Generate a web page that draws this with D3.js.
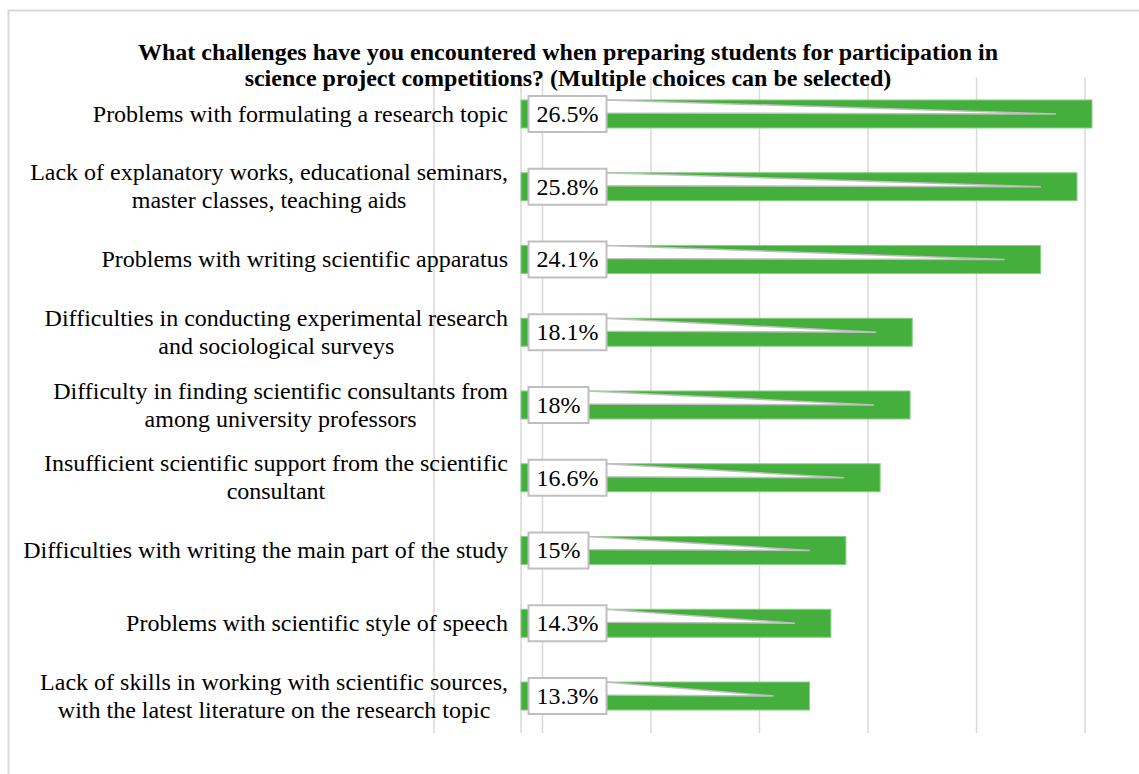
<!DOCTYPE html>
<html><head><meta charset="utf-8">
<script src="https://cdn.jsdelivr.net/npm/d3@7"></script>
<style>body{margin:0;background:#fff}svg{display:block}</style>
</head><body>
<svg id="c" width="1139" height="774"></svg>
<script>
const titleLines = ["What challenges have you encountered when preparing students for participation in",
  "science project competitions? (Multiple choices can be selected)"];
const categories = [
  ["Problems with formulating a research topic"],
  ["Lack of explanatory works, educational seminars,", "master classes, teaching aids"],
  ["Problems with writing scientific apparatus"],
  ["Difficulties in conducting experimental research", "and sociological surveys"],
  ["Difficulty in finding scientific consultants from", "among university professors"],
  ["Insufficient scientific support from the scientific", "consultant"],
  ["Difficulties with writing the main part of the study"],
  ["Problems with scientific style of speech"],
  ["Lack of skills in working with scientific sources,", "with the latest literature on the research topic"]
];
const values = [26.5, 25.8, 24.1, 18.1, 18, 16.6, 15, 14.3, 13.3];
const valueLabels = ["26.5%", "25.8%", "24.1%", "18.1%", "18%", "16.6%", "15%", "14.3%", "13.3%"];
const gridTicks = [0, 1, 2, 3, 4, 5, 6];

const svg = d3.select("#c");
const FONT = "'Liberation Serif','Times New Roman',serif";
const LBL = 24, VAL = 24, TTL = 24;

// frame
svg.append("path").attr("d", "M8.5,774 V10.5 H1139").attr("fill", "none")
  .attr("stroke", "#d9d9d9").attr("stroke-width", 2);

const y = d3.scaleBand().domain(d3.range(categories.length)).range([77.6, 732.4]).paddingInner(0.615).paddingOuter(0.3075);
const x0 = -0.18;
const x = d3.scaleLinear().domain([x0, 26.5]).range([521, 1092]);
const gx = d3.scaleLinear().domain([0, 6]).range([434, 1085]);

// gridlines
svg.append("g").selectAll("line").data(gridTicks).join("line")
  .attr("x1", d => gx(d)).attr("x2", d => gx(d)).attr("y1", 77.6).attr("y2", 733)
  .attr("stroke", "#d9d9d9").attr("stroke-width", 1.5);
svg.append("line").attr("x1", x(x0)).attr("x2", x(x0)).attr("y1", 77.6).attr("y2", 733)
  .attr("stroke", "#d9d9d9").attr("stroke-width", 1.5);

// title
svg.append("text").attr("x", 568).attr("y", 60).attr("text-anchor", "middle")
  .attr("font-family", FONT).attr("font-weight", "bold").attr("font-size", TTL)
  .selectAll("tspan").data(titleLines).join("tspan")
  .attr("x", 568).attr("dy", (d, i) => i ? 26 : 0).text(d => d);

// bars
svg.append("g").selectAll("rect").data(values).join("rect")
  .attr("x", x(x0)).attr("y", (d, i) => y(i)).attr("width", d => x(d) - x(x0))
  .attr("height", y.bandwidth()).attr("fill", "#45AF3D").attr("stroke", "#8ccf86").attr("stroke-width", 1);

// category labels
const lab = svg.append("g").attr("font-family", FONT).attr("font-size", LBL).attr("fill", "#000");
categories.forEach((lines, i) => {
  const cy = y(i) + y.bandwidth() / 2;
  const g = lab.append("text").attr("text-anchor", "middle");
  const ts = g.selectAll("tspan").data(lines).join("tspan").text(d => d);
  const w = d3.max(ts.nodes(), n => n.getComputedTextLength());
  const cx = 508 - w / 2;
  const lh = 28;
  ts.attr("x", cx).attr("y", (d, j) => cy + (j - (lines.length - 1) / 2) * lh + LBL * 0.32);
});

// value label boxes with callout wedge
const vg = svg.append("g");
values.forEach((v, i) => {
  const cy = y(i) + y.bandwidth() / 2;
  const g = vg.append("g");
  const t = g.append("text").attr("font-family", FONT).attr("font-size", VAL)
    .attr("x", 0).attr("y", 0).text(valueLabels[i]);
  const tw = t.node().getComputedTextLength();
  const bx = 528.5, bh = 36, bw = tw + 16, by = cy - bh / 2;
  const tipX = x(v) - 36;
  g.insert("path", "text")
    .attr("d", `M${bx + bw - 1},${by + 4} L${tipX},${cy} L${bx + bw - 1},${cy - 1} Z`)
    .attr("fill", "#fff").attr("stroke", "#bfbfbf").attr("stroke-width", 1.5);
  g.insert("rect", "text").attr("x", bx).attr("y", by).attr("width", bw).attr("height", bh)
    .attr("fill", "#fff").attr("stroke", "#bfbfbf").attr("stroke-width", 2);
  t.attr("x", bx + 8).attr("y", cy + VAL * 0.33);
});
</script>
</body></html>
